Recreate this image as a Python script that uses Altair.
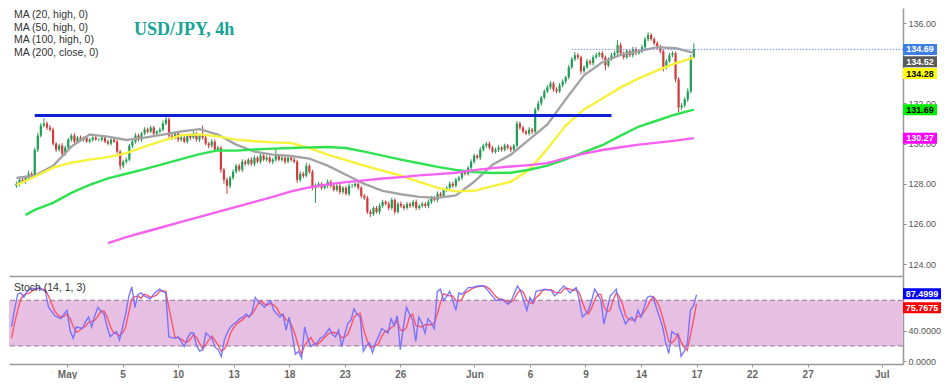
import altair as alt
import pandas as pd

# ---------------- data ----------------
closes = [
    128.0, 128.2, 128.1, 128.3, 128.5, 128.4, 129.7, 130.4, 130.9, 131.0,
    130.8, 130.7, 130.0, 129.7, 129.9, 129.5, 129.8, 130.2, 130.4, 130.1,
    130.3, 130.2, 130.3, 130.1, 130.2, 130.3, 130.2, 130.2, 130.3, 130.1,
    130.0, 130.2, 130.1, 129.6, 128.9, 129.1, 129.2, 129.9, 130.1, 130.4,
    130.2, 130.5, 130.7, 130.6, 130.8, 130.5, 130.6, 130.7, 131.0, 131.2,
    130.4, 130.3, 130.5, 130.2, 130.3, 130.1, 130.4, 130.3, 130.5, 130.2,
    130.4, 130.3, 130.0, 129.9, 130.1, 129.7, 129.8, 128.7, 128.2, 127.9,
    128.3, 128.6, 128.9, 128.7, 129.1, 129.0, 129.2, 129.0, 129.3, 129.1,
    129.4, 129.2, 129.3, 129.1, 129.2, 129.4, 129.2, 129.3, 129.1, 129.3,
    129.2, 129.1, 128.2, 128.5, 128.4, 128.9, 128.6, 127.8, 127.9, 128.0,
    127.8, 127.9, 128.1, 127.9, 127.7, 127.9, 127.6, 127.8, 127.5, 127.9,
    127.9, 128.0, 127.8, 127.4, 127.3, 126.6, 126.5, 126.8, 126.6, 126.9,
    127.1, 127.0, 126.8, 127.2, 126.6, 127.0, 126.9, 126.8, 127.0, 126.9,
    127.1, 126.8, 126.9, 127.0, 126.9, 127.1, 127.3, 127.2, 127.5, 127.4,
    127.7, 127.8, 128.0, 127.9, 128.2, 128.3, 128.6, 128.5, 128.8, 129.1,
    129.4, 129.3, 129.7, 129.9, 130.0, 129.8, 129.6, 129.7, 129.8, 129.7,
    129.9, 129.8, 129.7, 129.9, 131.0, 130.8, 130.6, 130.5, 130.7, 130.6,
    131.7, 132.0, 132.3, 132.6, 132.8, 133.0, 132.7, 132.6, 132.9, 133.1,
    133.3, 133.8, 134.2, 134.4, 134.3, 133.6, 133.8, 134.1, 134.0, 134.3,
    134.4, 134.5, 134.3, 133.9, 134.2, 134.4, 134.5, 134.9, 134.5, 134.3,
    134.6, 134.4, 134.7, 134.5, 134.6, 134.8, 135.2, 135.4, 135.2, 135.0,
    134.8, 134.6, 133.8, 134.1, 134.4, 134.5, 133.2, 131.8, 131.9, 132.2,
    132.6, 134.3, 134.69,
]
first_open = 127.9

wick_hi = [
    .10, .08, .12, .10, .15, .10, .10, .15, .12, .27,
    .10, .12, .10, .08, .10, .12, .10, .08, .10, .12,
    .08, .10, .06, .10, .08, .06, .10, .08, .05, .08,
    .10, .06, .08, .10, .08, .10, .12, .08, .10, .12,
    .10, .08, .12, .10, .10, .08, .06, .10, .15, .12,
    .10, .12, .10, .08, .10, .12, .08, .10, .12, .08,
    .10, .50, .10, .08, .12, .10, .10, .08, .10, .12,
    .10, .12, .08, .10, .12, .10, .08, .12, .10, .08,
    .10, .08, .12, .10, .10, .38, .08, .10, .06, .10,
    .08, .10, .10, .12, .10, .15, .08, .10, .12, .10,
    .08, .10, .12, .10, .08, .10, .12, .08, .10, .12,
    .10, .08, .10, .08, .10, .10, .12, .08, .10, .12,
    .10, .08, .12, .10, .08, .10, .12, .08, .10, .08,
    .10, .12, .08, .10, .08, .12, .10, .08, .12, .10,
    .10, .08, .12, .10, .10, .08, .12, .10, .08, .12,
    .10, .08, .12, .10, .08, .10, .08, .10, .12, .08,
    .10, .08, .10, .08, .12, .10, .08, .10, .12, .08,
    .10, .12, .08, .10, .12, .10, .08, .10, .12, .10,
    .08, .12, .10, .15, .10, .08, .10, .12, .10, .10,
    .12, .08, .10, .08, .10, .12, .10, .25, .12, .08,
    .10, .08, .12, .10, .10, .12, .10, .15, .10, .08,
    .10, .12, .08, .10, .12, .10, .08, .10, .12, .10,
    .15, .12, .30,
]
wick_lo = [
    .10, .12, .08, .10, .12, .08, .10, .12, .10, .10,
    .12, .10, .10, .12, .10, .17, .10, .08, .10, .12,
    .10, .08, .10, .06, .08, .10, .06, .08, .10, .08,
    .08, .10, .06, .10, .20, .12, .10, .08, .12, .10,
    .10, .12, .08, .10, .08, .12, .10, .08, .10, .08,
    .12, .10, .08, .12, .10, .08, .10, .12, .08, .10,
    .12, .10, .08, .12, .10, .10, .08, .15, .20, .40,
    .12, .10, .08, .10, .12, .10, .08, .10, .12, .08,
    .10, .08, .10, .08, .12, .10, .08, .10, .12, .08,
    .10, .08, .15, .10, .12, .08, .10, .12, .75, .10,
    .10, .08, .12, .10, .08, .10, .12, .10, .08, .12,
    .10, .08, .10, .12, .10, .10, .15, .10, .08, .12,
    .10, .08, .12, .10, .12, .08, .10, .12, .08, .10,
    .08, .12, .10, .08, .10, .12, .10, .08, .12, .10,
    .08, .10, .12, .10, .08, .10, .12, .08, .10, .12,
    .10, .08, .12, .10, .12, .10, .08, .10, .12, .10,
    .08, .10, .12, .08, .10, .12, .10, .08, .10, .12,
    .10, .08, .12, .10, .08, .10, .12, .10, .08, .10,
    .12, .10, .08, .10, .12, .15, .10, .08, .10, .12,
    .08, .10, .12, .25, .10, .08, .12, .10, .10, .12,
    .08, .10, .12, .10, .08, .10, .12, .10, .08, .10,
    .12, .10, .20, .10, .08, .10, .15, .23, .12, .10,
    .12, .10, .08,
]

# moving averages, one reading per trading day (every 6th 4h candle)
ma_step = 6
ma20 = [128.29, 128.4, 128.9, 129.85, 130.45, 130.35, 130.18, 130.3, 130.45, 130.6,
        130.72, 130.45, 129.95, 129.6, 129.45, 129.38, 129.25, 128.9, 128.45, 128.0,
        127.65, 127.48, 127.35, 127.3, 127.42, 128.1, 128.95, 129.45, 130.2, 130.95,
        132.2, 133.4, 134.05, 134.42, 134.6, 134.8, 134.75, 134.52]
ma50 = [127.94, 128.35, 128.8, 129.05, 129.2, 129.33, 129.53, 129.85, 130.15, 130.42,
        130.46, 130.36, 130.2, 130.12, 130.06, 130.03, 129.78, 129.45, 129.18, 128.9,
        128.65, 128.4, 128.1, 127.8, 127.62, 127.65, 127.88, 128.1, 128.7, 129.75,
        130.9, 131.7, 132.25, 132.8, 133.25, 133.65, 134.0, 134.28]
ma100_first = 3
ma100 = [126.45, 126.7, 127.05, 127.55, 127.95, 128.27, 128.5, 128.73, 128.98, 129.23,
         129.48, 129.66, 129.65, 129.71, 129.75, 129.78, 129.81, 129.83, 129.78, 129.6,
         129.4, 129.2, 129.02, 128.84, 128.69, 128.58, 128.54, 128.55, 128.7, 128.9,
         129.22, 129.58, 129.92, 130.4, 130.85, 131.15, 131.45, 131.69]
ma200_first = 30
ma200 = [125.05, 125.35, 125.6, 125.85, 126.1, 126.35, 126.6, 126.85, 127.1, 127.35,
         127.62, 127.82, 127.97, 128.08, 128.17, 128.26, 128.33, 128.42, 128.48, 128.55,
         128.68, 128.78, 128.86, 128.93, 129.03, 129.28, 129.5, 129.68, 129.82, 129.95,
         130.05, 130.15, 130.27]

stoch_k = [
    45, 68, 88, 90, 84, 92, 95, 96, 95, 97,
    94, 92, 71, 66, 60, 58, 56, 62, 67, 40,
    30, 45, 44, 43, 52, 58, 45, 60, 71, 66,
    62, 45, 32, 36, 39, 28, 45, 62, 85, 98,
    71, 88, 90, 86, 84, 82, 88, 92, 95, 92,
    90, 32, 31, 30, 32, 26, 19, 30, 37, 37,
    20, 13, 15, 37, 33, 30, 18, 15, 6, 28,
    38, 45, 49, 52, 56, 58, 62, 58, 65, 84,
    78, 75, 71, 76, 80, 67, 62, 58, 62, 41,
    58, 35, 9, 13, 4, 45, 30, 19, 22, 24,
    30, 32, 37, 43, 35, 32, 41, 19, 35, 50,
    54, 69, 62, 58, 13, 20, 24, 11, 24, 33,
    43, 40, 37, 56, 47, 60, 15, 45, 71, 62,
    54, 26, 58, 50, 37, 56, 50, 43, 92, 95,
    80, 85, 92, 80, 67, 90, 88, 92, 97, 97,
    98, 99, 99, 99, 95, 90, 85, 80, 81, 82,
    78, 75, 80, 90, 99, 92, 80, 67, 84, 77,
    92, 93, 94, 95, 94, 93, 86, 90, 95, 99,
    95, 90, 94, 97, 80, 58, 62, 67, 80, 95,
    88, 80, 49, 67, 86, 90, 95, 71, 60, 49,
    55, 58, 52, 67, 58, 70, 84, 86, 84, 70,
    58, 45, 24, 10, 39, 36, 34, 6, 13, 22,
    67, 73, 87.4999,
]
stoch_d = [
    30, 50, 67, 82, 87, 89, 90, 94, 95, 96,
    95, 94, 86, 76, 66, 61, 58, 59, 62, 56,
    46, 38, 40, 44, 46, 51, 52, 54, 59, 66,
    66, 58, 46, 38, 36, 34, 37, 45, 64, 82,
    85, 86, 83, 88, 87, 84, 85, 87, 92, 93,
    92, 71, 51, 31, 31, 29, 26, 25, 29, 35,
    31, 23, 16, 22, 28, 33, 27, 21, 13, 16,
    24, 37, 44, 49, 52, 55, 59, 59, 62, 69,
    76, 79, 75, 74, 76, 74, 70, 62, 61, 54,
    54, 45, 34, 19, 9, 21, 26, 31, 24, 22,
    25, 29, 33, 37, 38, 37, 36, 31, 32, 35,
    46, 58, 62, 63, 44, 30, 19, 18, 20, 23,
    33, 39, 40, 44, 47, 54, 41, 40, 44, 59,
    62, 47, 46, 45, 48, 48, 48, 50, 62, 77,
    89, 87, 86, 86, 80, 79, 82, 90, 92, 95,
    97, 98, 99, 99, 98, 95, 90, 85, 82, 81,
    80, 78, 78, 82, 90, 94, 90, 80, 77, 76,
    84, 87, 93, 94, 94, 94, 91, 90, 90, 95,
    96, 95, 93, 94, 90, 78, 67, 62, 70, 81,
    88, 88, 72, 65, 67, 81, 90, 85, 75, 60,
    55, 54, 55, 59, 59, 65, 71, 80, 85, 80,
    71, 58, 42, 26, 24, 28, 36, 25, 18, 14,
    34, 54, 75.7675,
]

support_level = 131.4
support_from, support_to = 6, 195          # candle index range of the drawn line
last_price = 134.69
last_price_from = 182

price_ticks = [124, 126, 128, 130, 132, 136]   # 134.00 sits under the price tags
stoch_ticks = [0, 40]                           # 80 sits under the stoch tags
stoch_band = [20, 80]

date_tick_idx = [18, 36, 54, 72, 90, 108, 126, 150, 168, 186, 204, 222, 240, 258, 282]
date_tick_text = ["May", "5", "10", "13", "18", "23", "26", "Jun", "6", "9",
                  "14", "17", "22", "27", "Jul"]

ma_legend = ["MA (20, high, 0)", "MA (50, high, 0)", "MA (100, high, 0)", "MA (200, close, 0)"]
chart_title = "USD/JPY, 4h"
stoch_title = "Stoch (14, 1, 3)"

price_tags = [134.69, 134.52, 134.28, 131.69, 130.27]
price_tag_fill = ["#3d7fe3", "#5a5a5a", "#ffff00", "#00ee00", "#ff00ff"]
price_tag_ink = ["white", "white", "black", "black", "white"]
price_tag_shift = [0, 9, 16, 0, 0]          # px, to avoid overlapping tags
stoch_tags = [87.4999, 75.7675]
stoch_tag_fill = ["#0000ff", "#ff0000"]
stoch_tag_shift = [-1, 4]

# ---------------- layout / style ----------------
W = 894
H_MAIN = 268
H_STOCH = 88
X_DOMAIN = [-0.8, 288.9]
Y_MAIN = [123.41, 136.75]
Y_STOCH = [-3.9, 112.3]
UP, DOWN = "#1f9d55", "#d13b3b"
AX = "#9a9a9a"

n = len(closes)
opens = [first_open] + closes[:-1]
candles = pd.DataFrame({"i": list(range(n)), "open": opens, "close": closes})
candles["high"] = [max(o, c) + w for o, c, w in zip(opens, closes, wick_hi)]
candles["low"] = [min(o, c) - w for o, c, w in zip(opens, closes, wick_lo)]
candles["dir"] = ["up" if c >= o else "down" for o, c in zip(opens, closes)]

ma_frames = [
    (pd.DataFrame({"i": list(range(0, n, ma_step)), "v": ma20}), "#a3a3a3"),
    (pd.DataFrame({"i": list(range(0, n, ma_step)), "v": ma50}), "#f6f23a"),
    (pd.DataFrame({"i": [ma100_first] + list(range(ma_step, n, ma_step)), "v": ma100}), "#2ee24f"),
    (pd.DataFrame({"i": list(range(ma200_first, n, ma_step)), "v": ma200}), "#f760f0"),
]
stoch = pd.DataFrame({"i": list(range(n)), "k": stoch_k, "d": stoch_d})

xscale = alt.Scale(domain=X_DOMAIN, nice=False, zero=False)
main_x_axis = alt.Axis(title=None, labels=False, ticks=False, grid=False,
                       domainColor=AX, domainWidth=1.5)
label_expr = " : ".join(f"datum.value == {v} ? '{t}'" for v, t in zip(date_tick_idx, date_tick_text)) + " : ''"
stoch_x_axis = alt.Axis(title=None, values=date_tick_idx, labelExpr=label_expr, grid=False,
                        tickSize=3, tickColor=AX, domainColor=AX, domainWidth=1.5,
                        labelFontSize=10, labelFontWeight="bold", labelColor="#666",
                        labelPadding=2, labelOverlap=False, labelFlush=False)
main_y_axis = alt.Axis(title=None, orient="right", values=price_ticks, format=".2f", grid=False,
                       tickSize=3, tickColor="#888", domainColor=AX, domainWidth=1.5,
                       labelFontSize=9, labelColor="#555", labelPadding=2)
stoch_y_axis = alt.Axis(title=None, orient="right", values=stoch_ticks, format=".4f", grid=False,
                        tickSize=3, tickColor="#888", domainColor=AX, domainWidth=1.5,
                        labelFontSize=9, labelColor="#555", labelPadding=2)


def xm(f):
    return alt.X(f"{f}:Q", scale=xscale, axis=main_x_axis)


def xs(f):
    return alt.X(f"{f}:Q", scale=xscale, axis=stoch_x_axis)


def ym(f):
    return alt.Y(f"{f}:Q", scale=alt.Scale(domain=Y_MAIN, nice=False, zero=False), axis=main_y_axis)


def ys(f):
    return alt.Y(f"{f}:Q", scale=alt.Scale(domain=Y_STOCH, nice=False, zero=False), axis=stoch_y_axis)


cdir = alt.Color("dir:N", scale=alt.Scale(domain=["up", "down"], range=[UP, DOWN]), legend=None)

wicks = alt.Chart(candles).mark_rule(strokeWidth=1).encode(x=xm("i"), y=ym("low"), y2="high:Q", color=cdir)
bodies = alt.Chart(candles).mark_bar(size=2.2).encode(x=xm("i"), y=ym("open"), y2="close:Q", color=cdir)

ma_layers = [alt.Chart(df).mark_line(color=col, strokeWidth=2.4).encode(x=xm("i"), y=ym("v"))
             for df, col in ma_frames]

support = alt.Chart(pd.DataFrame({"a": [support_from], "b": [support_to], "v": [support_level]})).mark_rule(
    color="#1020d4", strokeWidth=3).encode(x=xm("a"), x2="b:Q", y=ym("v"))
last_line = alt.Chart(pd.DataFrame({"a": [last_price_from], "v": [last_price]})).mark_rule(
    color="#7890e6", strokeDash=[1.5, 1.5], strokeWidth=1).encode(x=xm("a"), x2=alt.value(W), y=ym("v"))

tag_layers = []
for v, fill, ink, dy in zip(price_tags, price_tag_fill, price_tag_ink, price_tag_shift):
    d = pd.DataFrame({"v": [v], "t": [f"{v:.2f}"]})
    tag_layers.append(alt.Chart(d).mark_rect(color=fill, yOffset=dy - 5.5, y2Offset=dy + 5.5).encode(
        x=alt.value(W), x2=alt.value(W + 34), y=ym("v"), y2="v:Q"))
    tag_layers.append(alt.Chart(d).mark_text(align="center", baseline="middle", dy=dy, fontSize=9,
                                             fontWeight="bold", color=ink).encode(
        x=alt.value(W + 17), y=ym("v"), text="t:N"))

legend_txt = alt.Chart(pd.DataFrame({"t": ["\n".join(ma_legend)]})).mark_text(
    align="left", baseline="top", lineBreak="\n", lineHeight=12.7, fontSize=10.5, color="#333").encode(
    x=alt.value(5), y=alt.value(2), text="t:N")
title_txt = alt.Chart(pd.DataFrame({"t": [chart_title]})).mark_text(
    align="left", baseline="alphabetic", font="Liberation Serif", fontWeight="bold", fontSize=18,
    color="#14a596").encode(x=alt.value(125), y=alt.value(27), text="t:N")

main = alt.layer(wicks, bodies, *ma_layers, support, last_line, *tag_layers, legend_txt, title_txt).properties(
    width=W, height=H_MAIN)

band = alt.Chart(pd.DataFrame({"lo": [stoch_band[0]], "hi": [stoch_band[1]]})).mark_rect(color="#e7bfe2").encode(
    x=alt.value(0), x2=alt.value(W), y=ys("lo"), y2="hi:Q")
dashes = alt.Chart(pd.DataFrame({"v": stoch_band})).mark_rule(
    color="#a08aa0", strokeDash=[5, 3], strokeWidth=1.2).encode(y=ys("v"))
d_line = alt.Chart(stoch).mark_line(color="#ff5566", strokeWidth=1.4).encode(x=xs("i"), y=ys("d"))
k_line = alt.Chart(stoch).mark_line(color="#6d6aff", strokeWidth=1.4, opacity=0.9).encode(x=xs("i"), y=ys("k"))

stag_layers = []
for v, fill, dy in zip(stoch_tags, stoch_tag_fill, stoch_tag_shift):
    d = pd.DataFrame({"v": [v], "t": [f"{v:.4f}"]})
    stag_layers.append(alt.Chart(d).mark_rect(color=fill, yOffset=dy - 5.5, y2Offset=dy + 5.5).encode(
        x=alt.value(W), x2=alt.value(W + 38), y=ys("v"), y2="v:Q"))
    stag_layers.append(alt.Chart(d).mark_text(align="center", baseline="middle", dy=dy, fontSize=9,
                                              fontWeight="bold", color="white").encode(
        x=alt.value(W + 19), y=ys("v"), text="t:N"))

stoch_txt = alt.Chart(pd.DataFrame({"t": [stoch_title]})).mark_text(
    align="left", baseline="middle", fontSize=10.5, color="#333").encode(
    x=alt.value(5), y=alt.value(12), text="t:N")

lower = alt.layer(band, dashes, d_line, k_line, *stag_layers, stoch_txt).properties(width=W, height=H_STOCH)

chart = alt.vconcat(main, lower, spacing=0).properties(padding=0, background="white").configure(
    font="Liberation Sans").configure_view(stroke=None)

chart.save("out.html", embed_options={"renderer": "svg", "actions": False})
